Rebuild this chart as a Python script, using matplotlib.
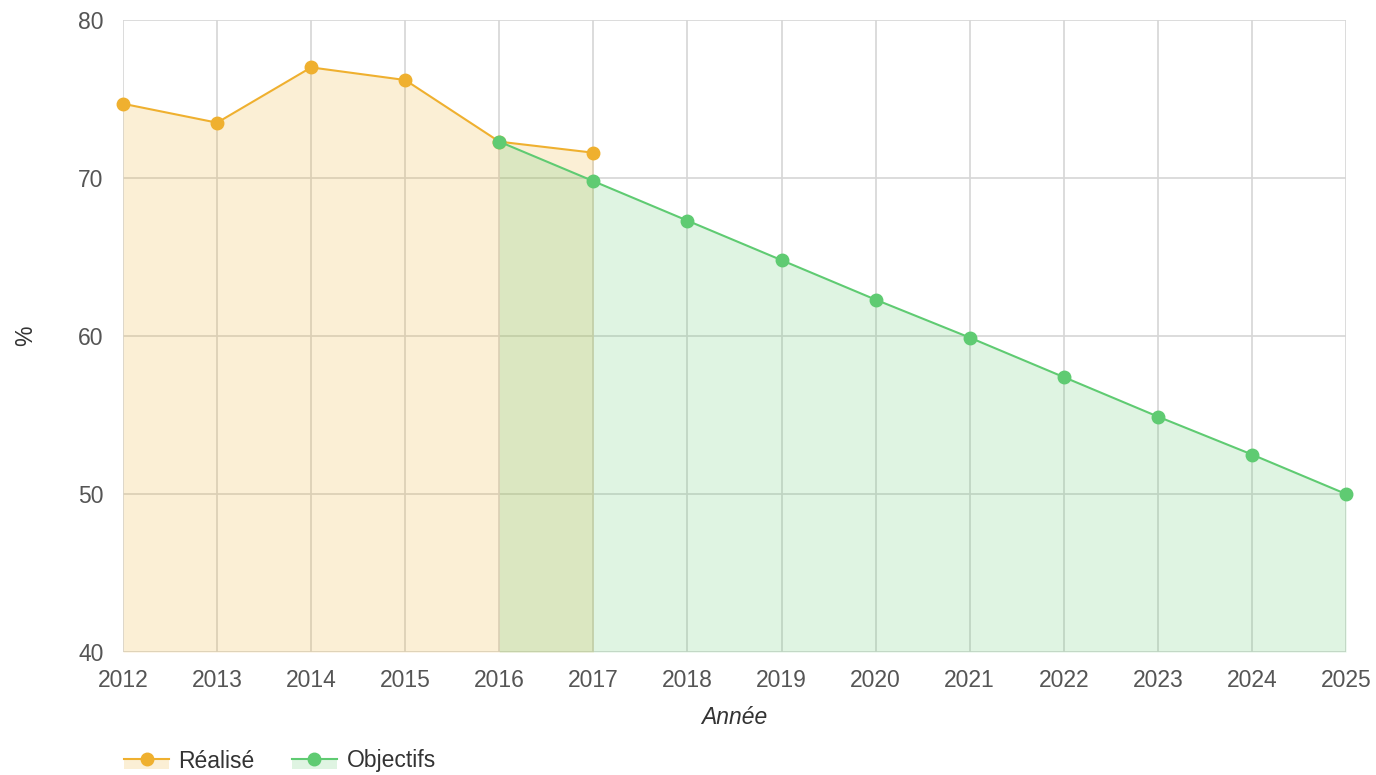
import matplotlib
matplotlib.use("Agg")
import matplotlib.pyplot as plt
from matplotlib.patches import Patch, Rectangle
from matplotlib.lines import Line2D
from matplotlib.legend_handler import HandlerPatch

years = list(range(2012, 2026))

realise_years = [2012, 2013, 2014, 2015, 2016, 2017]
realise = [74.7, 73.5, 77.0, 76.2, 72.3, 71.6]

objectifs_years = list(range(2016, 2026))
objectifs = [72.3, 69.8, 67.3, 64.8, 62.3, 59.9, 57.4, 54.9, 52.5, 50.0]

orange = "#efb02f"
green = "#5fcb72"

plt.rcParams['font.family'] = ['Liberation Sans', 'DejaVu Sans']

fig = plt.figure(figsize=(13.76, 7.75), dpi=100)
ax = fig.add_axes([123 / 1376, 1 - 652 / 775, (1346 - 123) / 1376, (652 - 20) / 775])

ymin = 40
ax.fill_between(realise_years, realise, ymin, color=orange, alpha=0.2, lw=0, zorder=2)
ax.fill_between(objectifs_years, objectifs, ymin, color=green, alpha=0.2, lw=0, zorder=2)
ax.plot(realise_years, realise, color=orange, lw=1.5, marker='o', ms=9, zorder=4, clip_on=False)
ax.plot(objectifs_years, objectifs, color=green, lw=1.5, marker='o', ms=9, zorder=5, clip_on=False)

ax.set_xlim(2012, 2025)
ax.set_ylim(40, 80)
ax.set_xticks(years)
ax.set_yticks([40, 50, 60, 70, 80])
ax.grid(True, color='#d6d6d6', lw=1.2, zorder=1)
ax.set_axisbelow(True)
for s in ax.spines.values():
    s.set_visible(False)
ax.tick_params(length=0, labelsize=16.5, colors='#555555')
ax.tick_params(axis='x', pad=12)
ax.tick_params(axis='y', pad=14)

ax.set_xlabel("Année", fontsize=16.5, style='italic', color='#333333', labelpad=10)
ax.yaxis.set_label_coords(-86 / 1223, 0.5)
ax.set_ylabel("%", fontsize=16.5, color='#333333')

# fill band only under the line in the legend key
def lower_band(legend, orig_handle, xdescent, ydescent, width, height, fontsize):
    return Rectangle((-xdescent, -ydescent - 1), width, height / 2 + 1)

def handle(c):
    return (Patch(facecolor=c, alpha=0.2, lw=0),
            Line2D([], [], color=c, lw=1.5, marker='o', ms=9))

fig.legend([handle(orange), handle(green)], ["Réalisé", "Objectifs"],
           loc='center left', bbox_to_anchor=(103 / 1376, 1 - 761 / 775), ncol=2,
           frameon=False, fontsize=16.5, handlelength=2, handletextpad=0.4,
           columnspacing=1.6, labelcolor='#333333',
           handler_map={Patch: HandlerPatch(patch_func=lower_band)})

fig.savefig("out.png", dpi=100)
